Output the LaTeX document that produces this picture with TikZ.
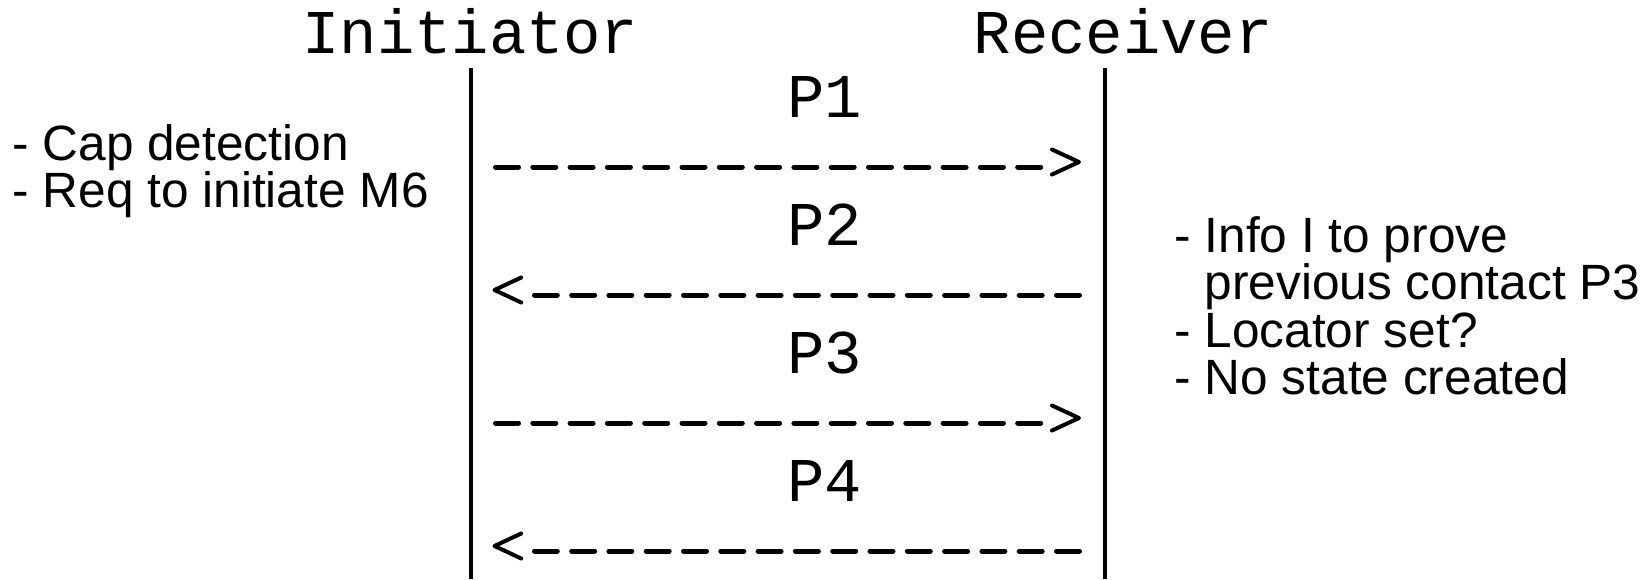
\documentclass[tikz,border=0pt]{standalone}
\usepackage{fontspec}
\setmainfont{Liberation Sans}
\newfontfamily\monofont{Liberation Mono}
\usetikzlibrary{calc}
\begin{document}
\begin{tikzpicture}[x=0.5pt,y=-0.5pt,
  mono/.style={font=\monofont\fontsize{31.1}{31.1}\selectfont, inner sep=0pt, anchor=base west},
  side/.style={font=\fontsize{24.8}{24.8}\selectfont, inner sep=0pt, anchor=base west},
  lifeline/.style={line width=1.75pt},
  msgline/.style={line width=2.5pt, line cap=round, dash pattern=on 11.5pt off 7.15pt},
  msghead/.style={line width=2pt, line cap=round, line join=round}]
\useasboundingbox (0,0) rectangle (1645,579);
% participants
\node[mono] (ini) at (302,53) {Initiator};
\node[mono] (rec) at (973.4,53) {Receiver};
% lifelines
\coordinate (Lt) at (471.2,68);
\coordinate (Lb) at (471.2,579);
\coordinate (Rt) at (1105,68);
\coordinate (Rb) at (1105,579);
\draw[lifeline] (Lt) -- (Lb);
\draw[lifeline] (Rt) -- (Rb);
% message labels
\node[mono] (p1) at (786.9,117) {P1};
\node[mono] (p2) at (786.9,245) {P2};
\node[mono] (p3) at (786.9,373) {P3};
\node[mono] (p4) at (786.9,501) {P4};
% message anchors on lifelines
\coordinate (L1) at (471.2,167); \coordinate (R1) at (1105,167);
\coordinate (L2) at (471.2,295); \coordinate (R2) at (1105,295);
\coordinate (L3) at (471.2,423); \coordinate (R3) at (1105,423);
\coordinate (L4) at (471.2,551); \coordinate (R4) at (1105,551);
% P1: initiator -> receiver
\draw[msgline] ($(L1)+(24.3,0)$) -- ($(R1)+(-64.3,0)$);
\draw[msghead] ($(R1)+(-53,-17.5)$) -- ($(R1)+(-26,-5)$) -- ($(R1)+(-53,7.5)$);
% P2: receiver -> initiator
\draw[msgline] ($(R2)+(-25.5,0)$) -- ($(L2)+(63.3,0)$);
\draw[msghead] ($(L2)+(50,-17.5)$) -- ($(L2)+(23.3,-5)$) -- ($(L2)+(50,7.5)$);
% P3: initiator -> receiver
\draw[msgline] ($(L3)+(24.3,0)$) -- ($(R3)+(-64.3,0)$);
\draw[msghead] ($(R3)+(-53,-17.5)$) -- ($(R3)+(-26,-5)$) -- ($(R3)+(-53,7.5)$);
% P4: receiver -> initiator
\draw[msgline] ($(R4)+(-25.5,0)$) -- ($(L4)+(63.3,0)$);
\draw[msghead] ($(L4)+(50,-17.5)$) -- ($(L4)+(23.3,-5)$) -- ($(L4)+(50,7.5)$);
% side notes
\node[side] (c1) at (12,160) {- Cap detection};
\node[side] (c2) at (12,207.5) {- Req to initiate M6};
\node[side] (n1) at (1174,252) {- Info I to prove};
\node[side] (n2) at (1174,299.5) {\phantom{- }previous contact P3};
\node[side] (n3) at (1174,347) {- Locator set?};
\node[side] (n4) at (1174,394.5) {- No state created};
\end{tikzpicture}
\end{document}
